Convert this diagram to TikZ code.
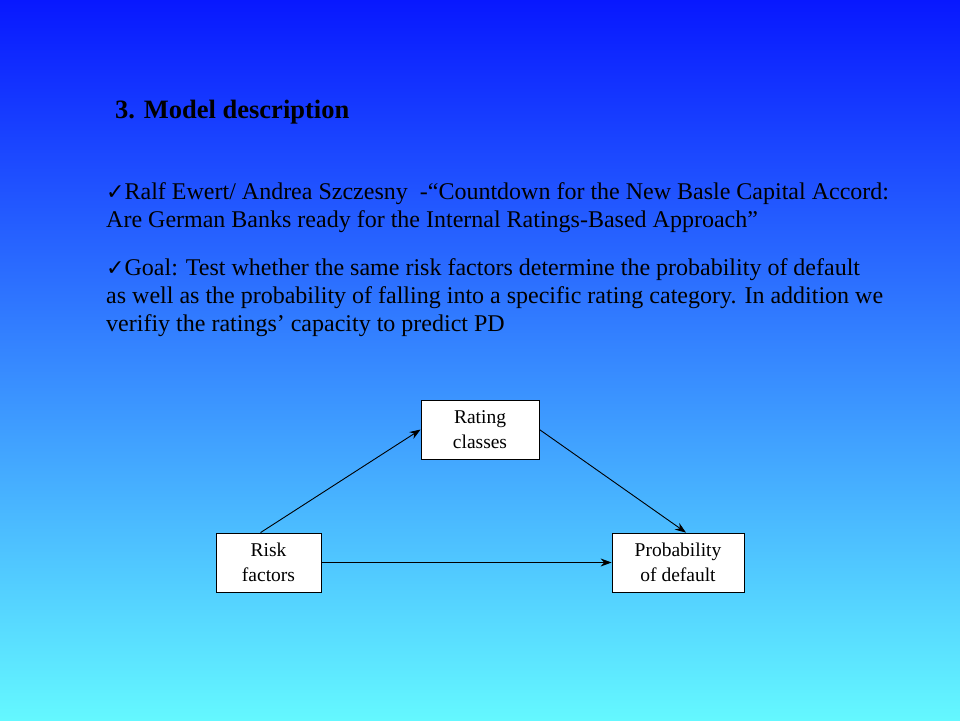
\documentclass[tikz,border=0pt]{standalone}
\usepackage{fontspec}
\setmainfont{Liberation Serif}
\newfontfamily\dejavu{DejaVu Sans Bold}
\usetikzlibrary{arrows.meta}
\newcommand{\chk}{{\dejavu\fontsize{22}{24}\selectfont ✓}}
\begin{document}
\begin{tikzpicture}[x=1pt,y=-1pt,
  box/.style={draw=black,fill=white,line width=0.8pt,font=\fontsize{19.5}{25}\selectfont,align=center,inner sep=0pt},
  conn/.style={-{Stealth[length=11pt,width=8pt]},line width=0.9pt},
  txt/.style={anchor=base west,inner sep=0pt,font=\fontsize{24}{28}\selectfont}]
\useasboundingbox (0,0) rectangle (960,720);
\shade[top color={rgb,255:red,8;green,24;blue,255},bottom color={rgb,255:red,100;green,248;blue,255}] (0,0) rectangle (960,720);
\node[txt,font=\fontsize{26.5}{30}\selectfont\bfseries] (title) at (115,118) {3. Model description};
\node[txt] (l1) at (106,199) {\chk Ralf Ewert/ Andrea Szczesny\ \ -“Countdown for the New Basle Capital Accord:};
\node[txt] (l2) at (106,227) {Are German Banks ready for the Internal Ratings-Based Approach”};
\node[txt] (l3) at (106,275) {\chk Goal: Test whether the same risk factors determine the probability of default};
\node[txt] (l4) at (106,303) {as well as the probability of falling into a specific rating category. In addition we};
\node[txt] (l5) at (106,331) {verifiy the ratings’ capacity to predict PD};
\node[box,minimum width=118,minimum height=59] (rc) at (480,429.5) {Rating\\classes};
\node[box,minimum width=105,minimum height=59] (rf) at (268.5,562.5) {Risk\\factors};
\node[box,minimum width=132,minimum height=59] (pd) at (678,562.5) {Probability\\of default};
\draw[conn] (rf.north) ++(-8,0) coordinate (s1) -- (rc.west);
\draw[conn] (rc.east) -- ([xshift=8pt]pd.north);
\draw[conn] (rf.east) -- (pd.west);
\end{tikzpicture}
\end{document}
